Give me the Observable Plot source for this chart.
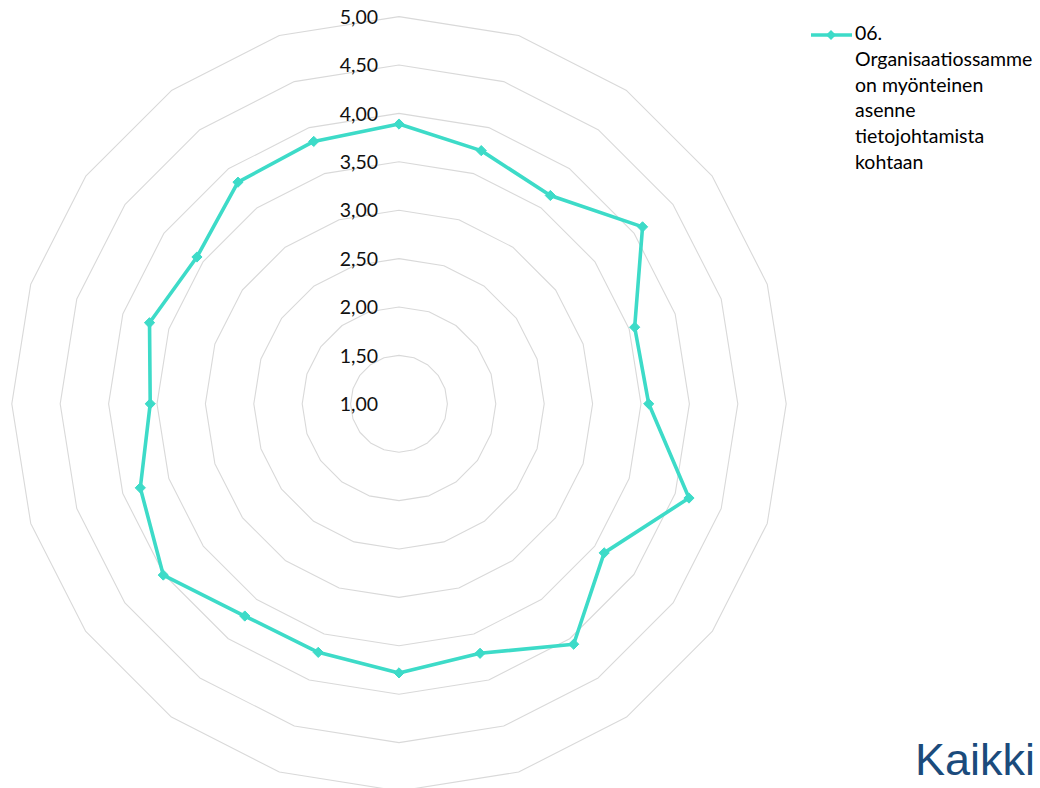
<!DOCTYPE html>
<html>
<head>
<meta charset="utf-8">
<script src="https://cdn.jsdelivr.net/npm/d3@7"></script>
<script src="https://cdn.jsdelivr.net/npm/@observablehq/plot@0.6"></script>
<style>
  html, body { margin: 0; padding: 0; background: #fff; }
  #wrap { position: relative; width: 1040px; height: 788px; overflow: hidden; font-family: Lato, "Open Sans", sans-serif; }
  #legend { position: absolute; left: 810px; top: 20px; width: 230px; }
  #legend .txt { position: absolute; left: 45px; top: 0; font-size: 19.5px; line-height: 25.8px; color: #000; white-space: nowrap; }
  #legend svg { position: absolute; left: 0; top: 8px; }
  #kaikki { position: absolute; right: 5px; top: 737px; font-family: "Liberation Sans", Arial, sans-serif; font-size: 45px; line-height: 45px; color: #1B4B7C; }
</style>
</head>
<body>
<div id="wrap"></div>
<script>
// Categories (20 spokes, clockwise from top)
const categories = ["1","2","3","4","5","6","7","8","9","10","11","12","13","14","15","16","17","18","19","20"];
// Series values
const seriesName = "06. Organisaatiossamme on myönteinen asenne tietojohtamista kohtaan";
const values = [3.89, 3.75, 3.66, 4.11, 3.56, 3.58, 4.15, 3.62, 4.07, 3.71, 3.78, 3.70, 3.71, 4.01, 3.81, 3.57, 3.71, 3.58, 3.83, 3.85];
// Radial axis ticks
const tickValues = [1.0, 1.5, 2.0, 2.5, 3.0, 3.5, 4.0, 4.5, 5.0];
const tickLabels = ["1,00", "1,50", "2,00", "2,50", "3,00", "3,50", "4,00", "4,50", "5,00"];
const legendLines = ["06.", "Organisaatiossamme", "on myönteinen", "asenne", "tietojohtamista", "kohtaan"];

const color = "#3DDBC8";
const rMin = 1;
const n = categories.length;
const angle = i => (i * 2 * Math.PI) / n;
const px = (v, i) => (v - rMin) * Math.sin(angle(i));
const py = (v, i) => (v - rMin) * Math.cos(angle(i));

// Grid rings
const grid = [];
tickValues.filter(t => t > rMin).forEach(t => {
  for (let i = 0; i <= n; i++) grid.push({level: t, x: px(t, i % n), y: py(t, i % n)});
});
// Series points (closed)
const pts = categories.map((c, i) => ({cat: c, v: values[i], x: px(values[i], i), y: py(values[i], i)}));
const closed = [...pts, pts[0]];
const ticks = tickValues.map((t, i) => ({v: t, label: tickLabels[i]}));

const unit = 96.8, cx = 398.5, cy = 403.3, W = 1040, H = 788;

const chart = Plot.plot({
  width: W,
  height: H,
  margin: 0,
  x: {domain: [-cx / unit, (W - cx) / unit], axis: null},
  y: {domain: [-(H - cy) / unit, cy / unit], axis: null},
  style: {fontFamily: "Lato, 'Open Sans', sans-serif", background: "white", overflow: "visible"},
  marks: [
    Plot.line(grid, {x: "x", y: "y", z: "level", stroke: "#d9d9d9", strokeWidth: 1.1}),
    Plot.line(closed, {x: "x", y: "y", stroke: color, strokeWidth: 3.6, strokeLinejoin: "round"}),
    Plot.dot(pts, {x: "x", y: "y", symbol: "diamond2", r: 4.6, fill: color, stroke: color, strokeWidth: 1}),
    Plot.text(ticks, {x: () => 0, y: d => d.v - rMin, text: "label", textAnchor: "end", dx: -21, dy: 1, fontSize: 19.5, fill: "#111"})
  ]
});
const wrap = document.getElementById("wrap");
wrap.appendChild(chart);

// Legend
const legend = document.createElement("div");
legend.id = "legend";
legend.innerHTML = `<svg width="44" height="14"><line x1="1" y1="7" x2="42" y2="7" stroke="${color}" stroke-width="3.6"/><path d="M21,2 L26,7 L21,12 L16,7 Z" fill="${color}"/></svg>` +
  `<div class="txt">${legendLines.join("<br>")}</div>`;
wrap.appendChild(legend);

const k = document.createElement("div");
k.id = "kaikki";
k.textContent = "Kaikki";
wrap.appendChild(k);
</script>
</body>
</html>
